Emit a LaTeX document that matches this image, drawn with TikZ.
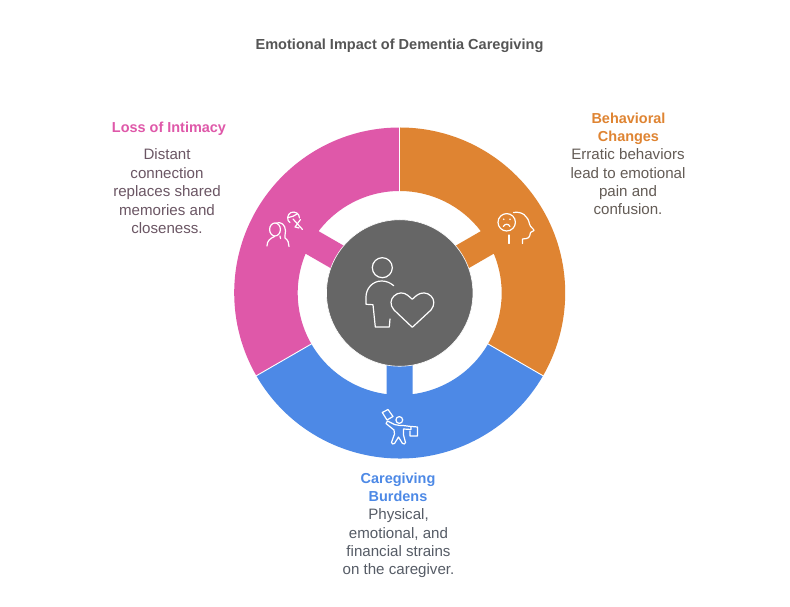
\documentclass[tikz,border=0pt]{standalone}
\usetikzlibrary{calc}
\usepackage{fontspec}
\setmainfont{Liberation Sans}
\definecolor{pinkseg}{HTML}{DF58A9}
\definecolor{orangeseg}{HTML}{DF8432}
\definecolor{blueseg}{HTML}{4D89E6}
\definecolor{hubgrey}{HTML}{666666}
\definecolor{titlegrey}{HTML}{555555}
\definecolor{pinktext}{HTML}{6B5664}
\definecolor{orangetext}{HTML}{645C56}
\definecolor{bluetext}{HTML}{565C66}
\tikzset{
  hubdisc/.style={circle,fill=hubgrey,draw=white,line width=0.6pt,minimum size=146.5pt,inner sep=0pt},
  titletext/.style={font=\fontsize{14.55}{18}\selectfont\bfseries,text=titlegrey,inner sep=0pt,anchor=base},
  heading/.style={font=\fontsize{14.45}{18.4}\selectfont\bfseries,align=center,inner sep=0pt,anchor=base},
  bodycopy/.style={font=\fontsize{15.1}{18.4}\selectfont,align=center,inner sep=0pt,anchor=base},
  glyph/.style={draw=white,line width=1.2pt,line cap=round,line join=round,fill=none},
  bigglyph/.style={draw=white,line width=1.2pt,line cap=round,line join=round,fill=none}
}
\begin{document}
\begin{tikzpicture}[x=1pt,y=1pt]
\useasboundingbox (0,0) rectangle (790,607);
\fill[white] (0,0) rectangle (790,607);
\coordinate (ctr) at (399.7,314);

% ring sectors, each with a stem running in under the hub
\foreach \col/\sa/\ea/\st in {orangeseg/90/-30/30,pinkseg/90/210/150,blueseg/210/330/270}{
  \pgfmathsetmacro{\oa}{\st+asin(13/102)}
  \pgfmathsetmacro{\ob}{\st-asin(13/102)}
  \pgfmathsetmacro{\ia}{\st+asin(13/60)}
  \pgfmathsetmacro{\ib}{\st-asin(13/60)}
  \fill[\col]
    ($(ctr)+(\sa:165.5)$) arc[start angle=\sa,end angle=\ea,radius=165.5]
    -- ($(ctr)+(\ea:102)$)
    arc[start angle=\ea,end angle=\ob,radius=102]
    -- ($(ctr)+(\ib:60)$) -- ($(ctr)+(\ia:60)$) -- ($(ctr)+(\oa:102)$)
    arc[start angle=\oa,end angle=\sa,radius=102] -- cycle;
}
% thin white seams between the sectors
\foreach \a in {90,210,330}
  \draw[white,line width=0.9pt] ($(ctr)+(\a:101)$) -- ($(ctr)+(\a:166)$);

\node[hubdisc] (hub) at (ctr) {};

\begin{scope}[y=-1pt,yshift=607pt]
  % carer and heart on the hub
  \draw[bigglyph] (382.3,267.7) circle (10);
  \draw[bigglyph] (393.7,285.7) .. controls (390,282.5) and (386,281) .. (381.7,281)
    .. controls (372,281) and (366,289) .. (366,297) -- (366,304.3) -- (373,304.7)
    -- (375.3,327) -- (389.3,327) -- (390,319);
  \draw[bigglyph] (412.3,327.3) -- (394,310)
    .. controls (389.5,305) and (390.5,299) .. (394,296)
    .. controls (398,292) and (404,292) .. (408,295.5) -- (412.3,299.3) -- (416.5,295.5)
    .. controls (421,292) and (427,292) .. (431,296)
    .. controls (434.5,299.5) and (435,305) .. (431,310) -- cycle;

  % two figures, one fading, on the pink sector
  \draw[glyph] (275,229.5) ellipse (5.4 and 6.5);
  \draw[glyph] (276,223.2) .. controls (281,221) and (285.5,225) .. (285.5,231)
    .. controls (285.5,234) and (284.5,236) .. (285,238) .. controls (288,240) and (289,243) .. (289,246.5);
  \draw[glyph] (267,246) .. controls (267,241) and (270,238.5) .. (274.5,236.5);
  \draw[glyph] (280,236) -- (280.5,238.5);
  \draw[glyph] (290,222.5) .. controls (286.5,221) and (287,214) .. (291,212.5)
    .. controls (295,211) and (299.5,213.5) .. (299.5,218);
  \draw[glyph] (288.5,217.5) .. controls (292,217) and (295,215.5) .. (297,214);
  \draw[glyph] (293,219) -- (302.5,229.5);
  \draw[glyph] (300.5,219.5) -- (295,227) -- (299,228);

  % troubled face beside a head in profile on the orange sector
  \draw[glyph] (506.7,222.3) circle (8.7);
  \fill[white] (503.7,219.3) circle (0.9) (510,219.3) circle (0.9);
  \draw[glyph] (503.3,226.5) .. controls (505,223.5) and (508.5,223.5) .. (510,226.5);
  \draw[glyph] (513.5,212.5) .. controls (522,211) and (528,216) .. (529.5,224)
    .. controls (530,227) and (534,229) .. (534,230.5) -- (530.5,232.5)
    .. controls (529.5,238) and (529,238.5) .. (522.5,239) -- (522.5,243.5);
  \draw[glyph] (509,235) -- (509,243.5);

  % figure with a raised sheet and a case on the blue sector
  \draw[glyph] (382.3,412.5) -- (388,409.5) -- (393,416.5) -- (387,420) -- cycle;
  \draw[glyph] (399.3,420) circle (3.4);
  \draw[glyph] (387.5,421) -- (394.5,424.5) .. controls (397,425.5) and (401,425.5) .. (403,425.5)
    -- (411,426.5) -- (411,429.5) -- (403.5,429) -- (403.5,435)
    -- (405.5,442.5) .. controls (405.5,444) and (403.5,444.5) .. (402.5,443.5)
    -- (398.5,437) -- (394.5,443.5) .. controls (393.5,444.5) and (391.5,444) .. (391.5,442.5)
    -- (394.5,434) -- (394,430) -- (386,423.5) -- cycle;
  \draw[glyph] (411.5,426.5) -- (417.5,427) -- (417.5,436) -- (410,436) -- (410,431);

  % title and the three captions
  \node[titletext] (title) at (399.5,49.2) {Emotional Impact of Dementia Caregiving};

  \node[heading,text=pinkseg] (lossHead) at (169,132.5) {Loss of Intimacy};
  \node[bodycopy,text=pinktext] (lossBody) at (167,233.5) {Distant\\connection\\replaces shared\\memories and\\closeness.};

  \node[heading,text=orangeseg] (behavHead) at (628.5,141.5) {Behavioral\\Changes};
  \node[bodycopy,text=orangetext] (behavBody) at (628,215) {Erratic behaviors\\lead to emotional\\pain and\\confusion.};

  \node[heading,text=blueseg] (careHead) at (398,501.5) {Caregiving\\Burdens};
  \node[bodycopy,text=bluetext] (careBody) at (398.5,575) {Physical,\\emotional, and\\financial strains\\on the caregiver.};
\end{scope}
\end{tikzpicture}
\end{document}
